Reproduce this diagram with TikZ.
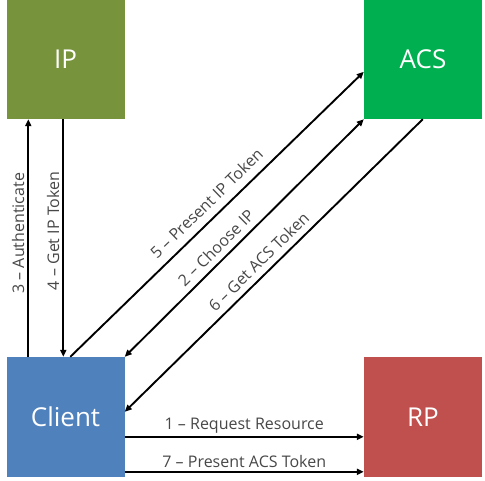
\documentclass[tikz,border=0pt]{standalone}
\usepackage{fontspec}
\setmainfont{Open Sans}
\usepackage{tikz}
\usetikzlibrary{arrows.meta,positioning,calc}
\definecolor{ipgreen}{HTML}{77933C}
\definecolor{acsgreen}{HTML}{00B050}
\definecolor{clientblue}{HTML}{4F81BD}
\definecolor{rpred}{HTML}{C0504D}
\tikzset{
  party/.style={minimum width=118pt, minimum height=119pt, inner sep=0pt, text=white, font=\fontsize{26}{30}\selectfont},
  msg/.style={line width=1.9pt, -{Triangle[length=7pt,width=6pt]}},
  lbl/.style={font=\fontsize{16}{19}\selectfont, text=black!72, inner sep=3pt}
}
\begin{document}
\begin{tikzpicture}[x=1pt, y=-1pt]
\useasboundingbox (0,0) rectangle (485,480);
\node[party, fill=ipgreen] (ip) at (65.5,59.5) {IP};
\node[party, fill=acsgreen] (acs) at (423,59.5) {ACS};
\node[party, fill=clientblue, minimum height=120pt] (client) at (65.5,417) {Client};
\node[party, fill=rpred, minimum height=120pt] (rp) at (423,417) {RP};
% client <-> ip
\draw[msg] ([xshift=22pt]client.north west) -- node[lbl, rotate=90, anchor=south, pos=0.52] {3 -- Authenticate} ([xshift=22pt]ip.south west);
\draw[msg] ([xshift=57pt]ip.south west) -- node[lbl, rotate=90, anchor=south, pos=0.47] {4 -- Get IP Token} ([xshift=57pt]client.north west);
% client <-> acs
\draw[msg] ([xshift=64pt]client.north west) -- node[lbl, above=5pt, sloped] {5 -- Present IP Token} ([yshift=-72pt]acs.north west);
\draw[msg, {Triangle[length=7pt,width=6pt]}-{Triangle[length=7pt,width=6pt]}] (client.north east) -- node[lbl, above=3pt, sloped, pos=0.42] {2 -- Choose IP} (acs.south west);
\draw[msg] ([xshift=59pt]acs.south west) -- node[lbl, above=3pt, sloped, pos=0.52] {6 -- Get ACS Token} ([yshift=-55pt]client.north east);
% client -> rp
\draw[msg] ([yshift=-80pt]client.north east) -- node[lbl, above] {1 -- Request Resource} ([yshift=-80pt]rp.north west);
\draw[msg] ([yshift=-115pt]client.north east) -- node[lbl, above] {7 -- Present ACS Token} ([yshift=-115pt]rp.north west);
\end{tikzpicture}
\end{document}
